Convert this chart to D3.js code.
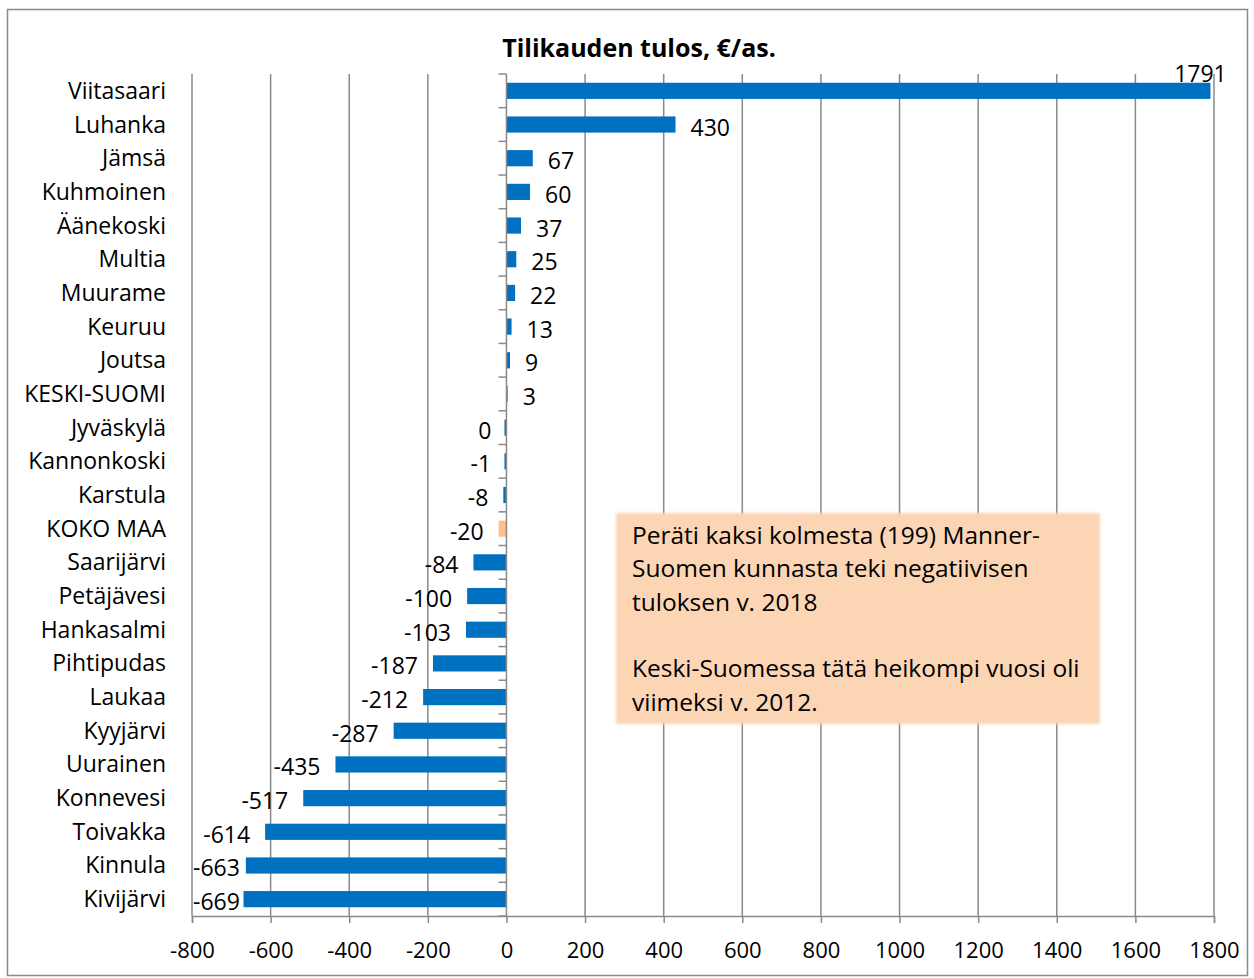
<!DOCTYPE html>
<html lang="fi">
<head>
<meta charset="UTF-8">
<title>Tilikauden tulos</title>
<script src="https://cdn.jsdelivr.net/npm/d3@7"></script>
<style>
  body { margin: 0; background: #fff; }
  text { font-family: "Open Sans", sans-serif; fill: #000; }
</style>
</head>
<body>
<svg class="chart" width="1254" height="978"></svg>
<script>
// data
const municipalities = ['Viitasaari', 'Luhanka', 'Jämsä', 'Kuhmoinen', 'Äänekoski', 'Multia', 'Muurame',
  'Keuruu', 'Joutsa', 'KESKI-SUOMI', 'Jyväskylä', 'Kannonkoski', 'Karstula', 'KOKO MAA', 'Saarijärvi',
  'Petäjävesi', 'Hankasalmi', 'Pihtipudas', 'Laukaa', 'Kyyjärvi', 'Uurainen', 'Konnevesi', 'Toivakka',
  'Kinnula', 'Kivijärvi']
const results = [1791, 430, 67, 60, 37, 25, 22, 13, 9, 3, -0.3, -1, -8, -20, -84, -100, -103, -187, -212,
  -287, -435, -517, -614, -663, -669]
const highlighted = ['KOKO MAA']
const xTicks = [-800, -600, -400, -200, 0, 200, 400, 600, 800, 1000, 1200, 1400, 1600, 1800]
const chartTitle = 'Tilikauden tulos, €/as.'
const noteLines = ['Peräti kaksi kolmesta (199) Manner-', 'Suomen kunnasta teki negatiivisen',
  'tuloksen v. 2018', '', 'Keski-Suomessa tätä heikompi vuosi oli', 'viimeksi v. 2012.']

const data = municipalities.map((name, i) => ({ name: name, value: results[i] }))

const svg = d3.select('.chart')
const plot = { left: 192, right: 1214, top: 74, bottom: 916 }
const gridColor = '#8a8a8a'
const fontSize = 23

// frame around the whole chart
svg.append('rect')
  .attr('x', 7.5).attr('y', 9.5)
  .attr('width', 1240).attr('height', 966)
  .attr('fill', 'none')
  .attr('stroke', gridColor)
  .attr('stroke-width', 1.5)

const xScale = d3.scaleLinear()
  .domain([d3.min(xTicks), d3.max(xTicks)])
  .range([plot.left, plot.right])

const yScale = d3.scaleBand()
  .domain(municipalities)
  .range([plot.top, plot.bottom])
  .paddingInner(0.52)
  .paddingOuter(0.26)

// title
svg.append('text')
  .attr('x', 639).attr('y', 57)
  .attr('text-anchor', 'middle')
  .attr('font-size', 25)
  .attr('font-weight', 'bold')
  .text(chartTitle)

// vertical gridlines
svg.append('g').selectAll('line')
  .data(xTicks.filter(t => t !== 0))
  .enter().append('line')
  .attr('x1', d => xScale(d)).attr('x2', d => xScale(d))
  .attr('y1', plot.top).attr('y2', plot.bottom)
  .attr('stroke', gridColor)
  .attr('stroke-width', 1.5)

// x axis at the bottom
const xAxis = svg.append('g')
  .attr('transform', `translate(0,${plot.bottom})`)
  .call(d3.axisBottom(xScale).tickValues(xTicks).tickSize(7).tickPadding(19).tickFormat(d => String(d)))
xAxis.select('.domain').attr('stroke', gridColor).attr('stroke-width', 1.5)
xAxis.selectAll('.tick line').attr('stroke', gridColor).attr('stroke-width', 1.5)
xAxis.selectAll('.tick text')
  .attr('font-size', 22)
  .attr('font-family', '"Open Sans", sans-serif')
  .attr('fill', '#000')

// bars (very small negative ones get a 2px sliver like the original)
const barWidth = d => Math.max(Math.abs(xScale(d.value) - xScale(0)), d.value < 0 ? 2 : 1)
svg.append('g').selectAll('rect')
  .data(data)
  .enter().append('rect')
  .attr('x', d => d.value < 0 ? xScale(0) - barWidth(d) : xScale(0))
  .attr('y', d => yScale(d.name))
  .attr('width', barWidth)
  .attr('height', yScale.bandwidth())
  .attr('fill', d => highlighted.includes(d.name) ? '#FAC090' : '#0070C0')

// category axis at zero, ticks only to the left
const yAxis = svg.append('g')
  .attr('transform', `translate(${xScale(0)},0)`)
const step = yScale.step()
const bounds = d3.range(municipalities.length + 1).map(i => plot.top + i * step)
yAxis.append('line')
  .attr('x1', 0).attr('x2', 0)
  .attr('y1', plot.top).attr('y2', plot.bottom)
  .attr('stroke', gridColor).attr('stroke-width', 1.5)
yAxis.selectAll('.ytick')
  .data(bounds)
  .enter().append('line')
  .attr('class', 'ytick')
  .attr('x1', -8).attr('x2', 0)
  .attr('y1', d => d).attr('y2', d => d)
  .attr('stroke', gridColor).attr('stroke-width', 1.5)

// category labels
svg.append('g').selectAll('text')
  .data(data)
  .enter().append('text')
  .attr('x', 166)
  .attr('y', d => yScale(d.name) + yScale.bandwidth() / 2 + 8)
  .attr('text-anchor', 'end')
  .attr('font-size', fontSize)
  .text(d => d.name)

// value labels
const fmt = v => String(Math.round(v) || 0)
const labels = svg.append('g').selectAll('text')
  .data(data)
  .enter().append('text')
  .attr('font-size', fontSize)
  .text(d => fmt(d.value))
labels.each(function (d) {
  const t = d3.select(this)
  const cy = yScale(d.name) + yScale.bandwidth() / 2
  const w = this.getComputedTextLength()
  if (d.value >= 0) {
    const x = xScale(d.value) + 15
    if (x + w > plot.right) {
      // no room on the right, sits on top of the bar end
      t.attr('x', xScale(d.value) - 10).attr('y', yScale(d.name) - 0.5).attr('text-anchor', 'middle')
    } else {
      t.attr('x', x).attr('y', cy + 11)
    }
  } else {
    let right = xScale(d.value) - 15
    if (right - w < plot.left + 1) right = plot.left + 1 + w
    t.attr('x', right).attr('y', cy + 11).attr('text-anchor', 'end')
  }
})

// note box
const defs = svg.append('defs')
const glow = defs.append('filter').attr('id', 'soft')
  .attr('x', '-5%').attr('y', '-5%').attr('width', '110%').attr('height', '110%')
glow.append('feGaussianBlur').attr('stdDeviation', 1.5)

const note = svg.append('g')
note.append('rect')
  .attr('x', 616).attr('y', 513)
  .attr('width', 484).attr('height', 211)
  .attr('fill', '#FBD4B4')
  .attr('filter', 'url(#soft)')
note.append('rect')
  .attr('x', 618).attr('y', 515)
  .attr('width', 480).attr('height', 207)
  .attr('fill', '#FCD5B5')
note.selectAll('text')
  .data(noteLines)
  .enter().append('text')
  .attr('x', 632)
  .attr('y', (d, i) => 544 + i * 33.3)
  .attr('font-size', 24.5)
  .text(d => d)
</script>
</body>
</html>
